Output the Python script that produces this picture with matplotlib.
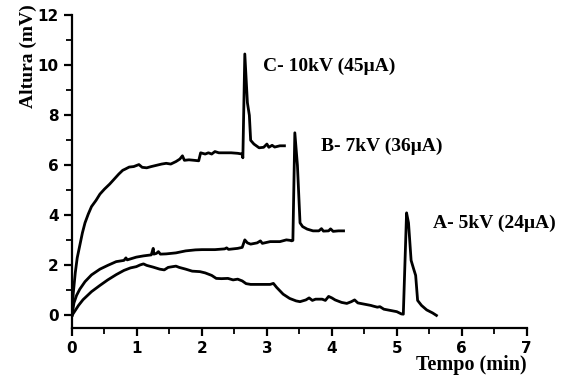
import matplotlib.pyplot as plt
from matplotlib.ticker import MultipleLocator

# sinal medido para cada tensao aplicada
t_c = [0, 0.02, 0.05, 0.08, 0.12, 0.16, 0.2, 0.25, 0.3, 0.37, 0.43, 0.5, 0.58, 0.65,
       0.72, 0.78, 0.82, 0.88, 0.95, 1.0, 1.03, 1.08, 1.15, 1.22, 1.3, 1.38, 1.45,
       1.52, 1.6, 1.66, 1.7, 1.73, 1.8, 1.88, 1.95, 1.98, 2.05, 2.1, 2.15, 2.2,
       2.26, 2.35, 2.45, 2.55, 2.62, 2.63, 2.66, 2.7, 2.73, 2.75, 2.8, 2.88, 2.95,
       3.0, 3.03, 3.08, 3.12, 3.2, 3.27]
h_c = [0, 0.9, 1.7, 2.3, 2.8, 3.3, 3.7, 4.05, 4.35, 4.6, 4.85, 5.05, 5.25, 5.45,
       5.65, 5.8, 5.85, 5.93, 5.95, 6.0, 6.03, 5.92, 5.9, 5.95, 6.0, 6.05, 6.08,
       6.05, 6.15, 6.25, 6.38, 6.2, 6.22, 6.2, 6.18, 6.5, 6.45, 6.5, 6.45, 6.55,
       6.5, 6.5, 6.5, 6.48, 6.45, 6.3, 10.45, 8.5, 8.0, 7.0, 6.85, 6.7, 6.72,
       6.85, 6.72, 6.8, 6.73, 6.78, 6.78]

t_b = [0, 0.03, 0.07, 0.12, 0.2, 0.3, 0.43, 0.55, 0.68, 0.8, 0.83, 0.85, 0.99, 1.1,
       1.22, 1.25, 1.26, 1.3, 1.33, 1.36, 1.45, 1.6, 1.75, 1.9, 2.0, 2.2, 2.35,
       2.38, 2.41, 2.55, 2.62, 2.66, 2.7, 2.75, 2.85, 2.9, 2.93, 3.05, 3.2, 3.3,
       3.36, 3.38, 3.4, 3.43, 3.47, 3.51, 3.55, 3.62, 3.71, 3.8, 3.84, 3.87, 3.95,
       3.98, 4.02, 4.1, 4.18]
h_b = [0, 0.5, 0.8, 1.05, 1.35, 1.62, 1.85, 2.0, 2.15, 2.2, 2.3, 2.22, 2.33, 2.38,
       2.42, 2.68, 2.45, 2.48, 2.55, 2.45, 2.46, 2.5, 2.58, 2.62, 2.63, 2.63, 2.66,
       2.7, 2.64, 2.68, 2.72, 3.02, 2.9, 2.85, 2.9, 2.98, 2.88, 2.95, 2.95, 3.02,
       3.0, 2.98, 3.0, 7.3, 6.0, 3.7, 3.55, 3.45, 3.38, 3.38, 3.47, 3.37, 3.38,
       3.46, 3.36, 3.38, 3.38]

t_a = [0, 0.05, 0.1, 0.17, 0.3, 0.43, 0.55, 0.68, 0.8, 0.9, 0.99, 1.05, 1.1, 1.15,
       1.25, 1.35, 1.42, 1.48, 1.55, 1.6, 1.65, 1.75, 1.85, 1.97, 2.05, 2.15, 2.22,
       2.3, 2.4, 2.48, 2.55, 2.62, 2.68, 2.75, 2.9, 3.05, 3.1, 3.15, 3.25, 3.35,
       3.45, 3.51, 3.6, 3.65, 3.7, 3.75, 3.85, 3.9, 3.95, 4.0, 4.05, 4.15, 4.23,
       4.3, 4.35, 4.4, 4.5, 4.6, 4.64, 4.7, 4.74, 4.8, 4.9, 5.0, 5.07, 5.1, 5.15,
       5.18, 5.22, 5.26, 5.29, 5.32, 5.38, 5.46, 5.55, 5.61]
h_a = [0, 0.2, 0.4, 0.63, 0.95, 1.2, 1.42, 1.63, 1.8, 1.9, 1.95, 2.02, 2.06, 2.0,
       1.93, 1.85, 1.82, 1.92, 1.95, 1.97, 1.92, 1.85, 1.77, 1.75, 1.7, 1.6, 1.48,
       1.47, 1.48, 1.42, 1.45, 1.38, 1.27, 1.24, 1.24, 1.24, 1.28, 1.12, 0.85, 0.68,
       0.58, 0.55, 0.62, 0.7, 0.6, 0.65, 0.65, 0.6, 0.76, 0.7, 0.62, 0.52, 0.48,
       0.55, 0.62, 0.5, 0.45, 0.4, 0.37, 0.33, 0.35, 0.25, 0.2, 0.15, 0.06, 0.05,
       4.1, 3.7, 2.2, 1.85, 1.6, 0.6, 0.4, 0.22, 0.1, 0.0]

labels = ["C- 10kV (45\u03bcA)", "B- 7kV (36\u03bcA)", "A- 5kV (24\u03bcA)"]
label_pos = [(2.94, 9.96), (3.84, 6.75), (5.55, 3.69)]

fig = plt.figure(figsize=(5.67, 3.8), dpi=100)
ax = fig.add_axes([0.127, 0.137, 0.802, 0.823])

for t, h in [(t_c, h_c), (t_b, h_b), (t_a, h_a)]:
    ax.plot(t, h, color="black", lw=2.0, solid_joinstyle="round")

for txt, (x, y) in zip(labels, label_pos):
    ax.text(x, y, txt, fontsize=14, fontweight="bold", family="Liberation Serif",
            va="center", ha="left")

ax.set_xlim(0, 7)
ax.set_ylim(-0.5, 12)
ax.xaxis.set_major_locator(MultipleLocator(1))
ax.xaxis.set_minor_locator(MultipleLocator(0.5))
ax.yaxis.set_major_locator(MultipleLocator(2))
ax.yaxis.set_minor_locator(MultipleLocator(1))

for side in ["top", "right"]:
    ax.spines[side].set_visible(False)
for side in ["left", "bottom"]:
    ax.spines[side].set_linewidth(1.6)

ax.tick_params(which="major", direction="out", length=6, width=1.6)
ax.tick_params(which="minor", direction="out", length=4, width=1.3)
for lab in ax.get_xticklabels() + ax.get_yticklabels():
    lab.set_family("DejaVu Sans")
    lab.set_fontweight("bold")
    lab.set_fontsize(11)

ax.set_xlabel("Tempo (min)", fontsize=14.5, fontweight="bold", family="Liberation Serif")
ax.set_ylabel("Altura (mV)", fontsize=14, fontweight="bold", family="Liberation Serif")
ax.xaxis.set_label_coords(0.879, -0.088)
ax.yaxis.set_label_coords(-0.077, 0.869)

fig.savefig("out.png", dpi=100)
